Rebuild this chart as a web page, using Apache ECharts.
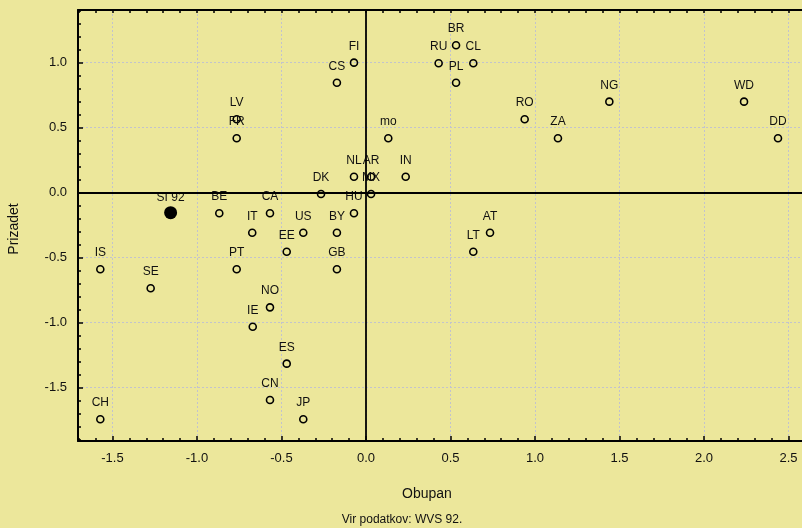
<!DOCTYPE html>
<html>
<head>
<meta charset="utf-8">
<script src="https://cdn.jsdelivr.net/npm/echarts@6/dist/echarts.min.js"></script>
<style>
  html, body { margin: 0; padding: 0; background: #ece79b; }
  #chart { width: 802px; height: 528px; }
</style>
</head>
<body>
<div id="chart"></div>
<script>
// countries (WVS 92) and their position on the two dimensions
const names = ["FI", "CS", "LV", "FR", "mo", "NL", "AR", "IN", "DK", "MX", "HU", "BE", "CA",
  "IT", "US", "BY", "EE", "PT", "GB", "IS", "SE", "NO", "IE", "ES", "CN", "JP", "CH",
  "BR", "RU", "CL", "PL", "NG", "WD", "RO", "ZA", "DD", "AT", "LT"];
const obupan = [-0.071, -0.172, -0.765, -0.765, 0.132, -0.071, 0.030, 0.235, -0.266, 0.030, -0.071, -0.868, -0.568,
  -0.673, -0.371, -0.172, -0.469, -0.765, -0.172, -1.572, -1.274, -0.568, -0.670, -0.469, -0.568, -0.371, -1.572,
  0.533, 0.430, 0.635, 0.533, 1.440, 2.237, 0.939, 1.136, 2.438, 0.734, 0.635];
const prizadet = [1.000, 0.846, 0.565, 0.418, 0.418, 0.123, 0.123, 0.123, -0.010, -0.010, -0.158, -0.158, -0.158,
  -0.308, -0.308, -0.308, -0.454, -0.589, -0.589, -0.589, -0.735, -0.882, -1.031, -1.315, -1.595, -1.743, -1.743,
  1.134, 0.995, 0.995, 0.846, 0.700, 0.700, 0.565, 0.418, 0.418, -0.308, -0.454];

// Slovenia, highlighted
const siName = "SI 92";
const siObupan = -1.156;
const siPrizadet = -0.154;

// tick labels
const xLabels = [-1.5, -1.0, -0.5, 0.0, 0.5, 1.0, 1.5, 2.0, 2.5];
const yLabels = [-1.5, -1.0, -0.5, 0.0, 0.5, 1.0];

const X_MIN = -1.704, X_MAX = 2.58;
const Y_MIN = -1.91, Y_MAX = 1.405;

// minor ticks every 0.1
function steps(from, to) {
  let out = [];
  for (let i = Math.round(from * 10); i <= Math.round(to * 10); i++) out.push(i / 10);
  return out;
}
const xMinor = steps(-1.7, 2.5);
const yMinor = steps(-1.9, 1.4);

const font = "'Liberation Sans', Arial, sans-serif";
const ink = "#111";

function mainAxis(pos, labels, min, max) {
  return {
    type: "value", position: pos, min: min, max: max,
    axisLine: { show: true, onZero: false, lineStyle: { color: "#000", width: 2 } },
    axisTick: { show: true, inside: true, length: 5, customValues: labels, lineStyle: { color: "#000", width: 1.5 } },
    axisLabel: {
      show: true, customValues: labels, margin: 11, fontSize: 13, color: ink, fontFamily: font,
      formatter: v => v.toFixed(1)
    },
    splitLine: { show: true, lineStyle: { color: "#c2c3cc", type: [2, 2], width: 1 } }
  };
}
function minorAxis(pos, ticks, min, max, line) {
  return {
    type: "value", position: pos, min: min, max: max,
    axisLine: { show: line, onZero: false, lineStyle: { color: "#000", width: 2 } },
    axisTick: { show: true, inside: true, length: 3, customValues: ticks, lineStyle: { color: "#000", width: 1.5 } },
    axisLabel: { show: false },
    splitLine: { show: false }
  };
}

let chart = echarts.init(document.getElementById("chart"));
let points = names.map((n, i) => [obupan[i], prizadet[i], n]);

let option = {
  backgroundColor: "#ece79b",
  animation: false,
  grid: { left: 78, top: 10, right: 0, bottom: 87, containLabel: false },
  xAxis: [
    mainAxis("bottom", xLabels, X_MIN, X_MAX),
    minorAxis("bottom", xMinor, X_MIN, X_MAX, false),
    minorAxis("top", xMinor, X_MIN, X_MAX, true)
  ],
  yAxis: [
    mainAxis("left", yLabels, Y_MIN, Y_MAX),
    minorAxis("left", yMinor, Y_MIN, Y_MAX, false)
  ],
  series: [
    {
      type: "scatter",
      data: points,
      symbol: "circle",
      symbolSize: 7,
      itemStyle: { color: "rgba(0,0,0,0)", borderColor: "#000", borderWidth: 1.6, opacity: 1 },
      label: {
        show: true, position: "top", distance: 6,
        formatter: p => p.data[2],
        fontSize: 12, color: ink, fontFamily: font
      },
      markLine: {
        silent: true, symbol: "none", animation: false,
        label: { show: false },
        lineStyle: { color: "#000", type: "solid", width: 1.8 },
        data: [{ xAxis: 0 }, { yAxis: 0 }]
      },
      z: 3
    },
    {
      type: "scatter",
      data: [[siObupan, siPrizadet, siName]],
      symbol: "circle",
      symbolSize: 13,
      itemStyle: { color: "#000", opacity: 1 },
      label: {
        show: true, position: "top", distance: 3,
        formatter: p => p.data[2],
        fontSize: 12, color: ink, fontFamily: font
      },
      z: 4
    }
  ],
  graphic: [
    { type: "text", x: 427, y: 494, style: { text: "Obupan", fontSize: 14, fontFamily: font, fill: ink, align: "center", verticalAlign: "middle" } },
    { type: "text", x: 402, y: 520, style: { text: "Vir podatkov: WVS 92.", fontSize: 12, fontFamily: font, fill: ink, align: "center", verticalAlign: "middle" } },
    { type: "text", x: 14, y: 229, rotation: Math.PI / 2, style: { text: "Prizadet", fontSize: 14, fontFamily: font, fill: ink, align: "center", verticalAlign: "middle" } }
  ]
};
chart.setOption(option, true);
</script>
</body>
</html>
